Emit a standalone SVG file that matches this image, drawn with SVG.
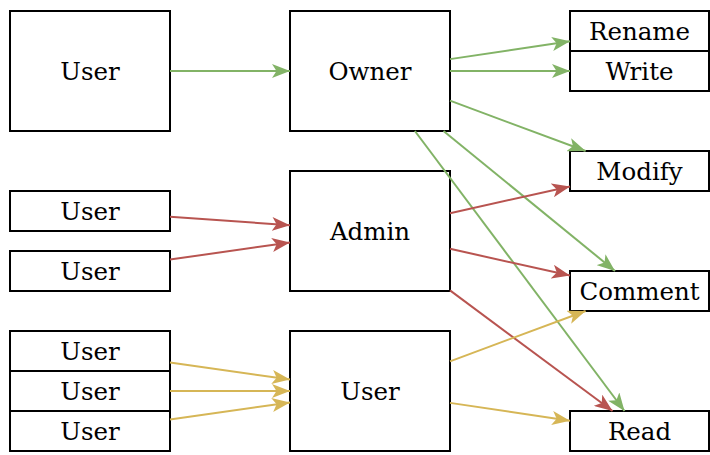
<svg xmlns="http://www.w3.org/2000/svg" width="710" height="455" viewBox="0 0 710 455">
  <style>
    .box { fill: #ffffff; stroke: #000000; stroke-width: 2; }
    text { font-family: 'DejaVu Serif', 'Liberation Serif', serif; font-size: 24.5px; fill: #000000; text-anchor: middle; }
    .g { stroke: #82b366; stroke-width: 2; fill: none; marker-end: url(#ah-green); }
    .r { stroke: #b85450; stroke-width: 2; fill: none; marker-end: url(#ah-red); }
    .y { stroke: #d6b656; stroke-width: 2; fill: none; marker-end: url(#ah-yellow); }
  </style>
  <defs>
    <marker id="ah-green" markerUnits="userSpaceOnUse" viewBox="0 0 18 14" markerWidth="18" markerHeight="14" refX="18" refY="7" orient="auto">
      <path d="M0,0 L18,7 L0,14 L4.5,7 z" fill="#82b366"/>
    </marker>
    <marker id="ah-red" markerUnits="userSpaceOnUse" viewBox="0 0 18 14" markerWidth="18" markerHeight="14" refX="18" refY="7" orient="auto">
      <path d="M0,0 L18,7 L0,14 L4.5,7 z" fill="#b85450"/>
    </marker>
    <marker id="ah-yellow" markerUnits="userSpaceOnUse" viewBox="0 0 18 14" markerWidth="18" markerHeight="14" refX="18" refY="7" orient="auto">
      <path d="M0,0 L18,7 L0,14 L4.5,7 z" fill="#d6b656"/>
    </marker>
  </defs>

  <!-- nodes -->
  <g id="user-main"><rect class="box" x="10" y="11" width="160" height="120"/><text x="90" y="80">User</text></g>
  <g id="owner"><rect class="box" x="290" y="11" width="160" height="120"/><text x="370" y="80">Owner</text></g>
  <g id="rename"><rect class="box" x="570" y="11" width="139" height="40"/><text x="639.5" y="40">Rename</text></g>
  <g id="write"><rect class="box" x="570" y="51" width="139" height="40"/><text x="639.5" y="80">Write</text></g>
  <g id="modify"><rect class="box" x="570" y="151" width="139" height="40"/><text x="639.5" y="180">Modify</text></g>
  <g id="user-a1"><rect class="box" x="10" y="191" width="160" height="40"/><text x="90" y="220">User</text></g>
  <g id="user-a2"><rect class="box" x="10" y="251" width="160" height="40"/><text x="90" y="280">User</text></g>
  <g id="admin"><rect class="box" x="290" y="171" width="160" height="120"/><text x="370" y="240">Admin</text></g>
  <g id="comment"><rect class="box" x="570" y="271" width="139" height="40"/><text x="639.5" y="300">Comment</text></g>
  <g id="user-b1"><rect class="box" x="10" y="331" width="160" height="40"/><text x="90" y="360">User</text></g>
  <g id="user-b2"><rect class="box" x="10" y="371" width="160" height="40"/><text x="90" y="400">User</text></g>
  <g id="user-b3"><rect class="box" x="10" y="411" width="160" height="40"/><text x="90" y="440">User</text></g>
  <g id="user-group"><rect class="box" x="290" y="331" width="160" height="120"/><text x="370" y="400">User</text></g>
  <g id="read"><rect class="box" x="570" y="411" width="139" height="40"/><text x="639.5" y="440">Read</text></g>

  <!-- connectors -->
  <g id="connectors">
    <line class="g" x1="170" y1="71" x2="290" y2="71"/>
    <line class="g" x1="450" y1="59.13" x2="570" y2="41.32"/>
    <line class="g" x1="450" y1="71" x2="570" y2="71"/>
    <line class="g" x1="450" y1="100.68" x2="585.6" y2="151"/>
    <line class="g" x1="443.5" y1="131" x2="615" y2="271"/>
    <line class="g" x1="414.9" y1="131" x2="624.5" y2="411"/>

    <line class="r" x1="170" y1="216.71" x2="290" y2="225.29"/>
    <line class="r" x1="170" y1="259.57" x2="290" y2="242.43"/>
    <line class="r" x1="450" y1="213.19" x2="570" y2="186.47"/>
    <line class="r" x1="450" y1="248.81" x2="570" y2="275.53"/>
    <line class="r" x1="450" y1="290.4" x2="612.55" y2="411"/>

    <line class="y" x1="170" y1="362.43" x2="290" y2="379.57"/>
    <line class="y" x1="170" y1="391" x2="290" y2="391"/>
    <line class="y" x1="170" y1="419.57" x2="290" y2="402.43"/>
    <line class="y" x1="450" y1="361.32" x2="585.6" y2="311"/>
    <line class="y" x1="450" y1="402.87" x2="570" y2="420.68"/>
  </g>
</svg>
